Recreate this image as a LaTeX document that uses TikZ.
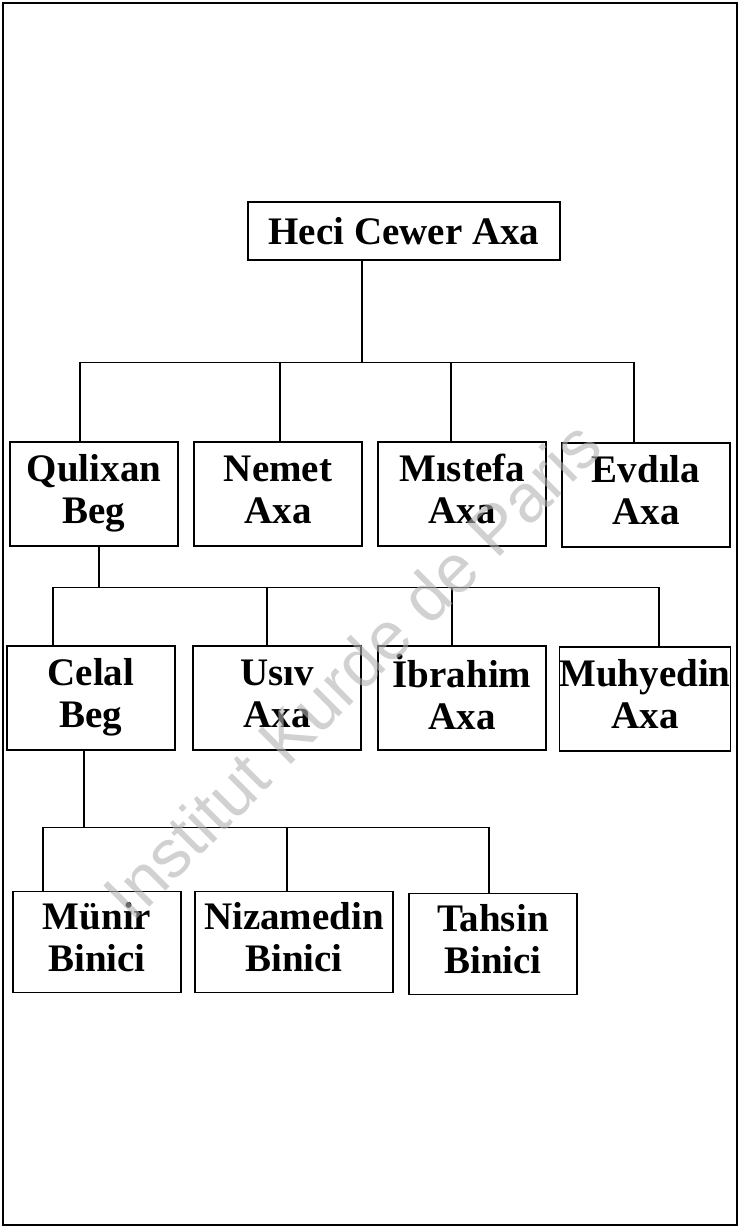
\documentclass[tikz,border=0pt]{standalone}
\usepackage{fontspec}
\setmainfont{Liberation Serif}
\newfontfamily\wmfont{Liberation Sans}
\usepackage{xcolor}
\newcommand\twoline[2]{\strut#1\\\strut#2}

\begin{document}
\begin{tikzpicture}[x=0.5pt,y=-0.5pt]
\tikzset{person/.style={draw,line width=0.75pt,minimum width=84pt,minimum height=52pt,inner sep=0pt,align=center,font=\fontsize{19.5}{21}\selectfont\bfseries}}
\tikzset{wide person/.style={person,minimum width=99pt}}
\tikzset{link/.style={line width=0.65pt}}
\tikzset{watermark/.style={rotate=45,text=black!30,text opacity=0.6,font=\wmfont\fontsize{34}{34}\selectfont}}

\useasboundingbox (0,0) rectangle (740,1227);
\draw[line width=1pt] (3,3) rectangle (737,1225);

\node[person,minimum width=156pt,minimum height=29pt] (heci) at (404,231) {Heci Cewer Axa};

\node[person] (qulixan) at (94,494) {\twoline{Qulixan}{Beg}};
\node[person] (nemet) at (278,494) {\twoline{Nemet}{Axa}};
\node[person] (mistefa) at (462,494) {\twoline{Mıstefa}{Axa}};
\node[person] (evdila) at (646,495) {\twoline{Evdıla}{Axa}};

\node[person] (celal) at (91,698) {\twoline{Celal}{Beg}};
\node[person] (usiv) at (277,698) {\twoline{Usıv}{Axa}};
\node[person] (ibrahim) at (462,698) {\twoline{İbrahim}{Axa}};
\node[person] (muhyedin) at (645,699) {\twoline{Muhyedin}{Axa}};

\node[person,minimum height=50.5pt] (munir) at (97,942) {\twoline{Münir}{Binici}};
\node[wide person,minimum height=50.5pt] (nizamedin) at (294,942) {\twoline{Nizamedin}{Binici}};
\node[person,minimum height=50.5pt] (tahsin) at (493,944) {\twoline{Tahsin}{Binici}};

\draw[link] ([xshift=-21pt]heci.south) -- ++(0,102) coordinate (j1);
\foreach \kid/\dx in {qulixan/-7pt,nemet/1pt,mistefa/-5.5pt,evdila/-6pt}
  \draw[link] ([xshift=\dx]\kid.north) |- (j1);

\draw[link] ([xshift=2.5pt]qulixan.south) -- ++(0,41) coordinate (j2);
\foreach \kid/\dx in {celal/-19pt,usiv/-5pt,ibrahim/-5pt,muhyedin/7pt}
  \draw[link] ([xshift=\dx]\kid.north) |- (j2);

\draw[link] ([xshift=-3.5pt]celal.south) -- ++(0,77) coordinate (j3);
\foreach \kid/\dx in {munir/-27pt,nizamedin/-3.5pt,tahsin/-2pt}
  \draw[link] ([xshift=\dx]\kid.north) |- (j3);

\node[watermark] (stamp) at (352,670) {Institut Kurde de Paris};

\end{tikzpicture}
\end{document}
